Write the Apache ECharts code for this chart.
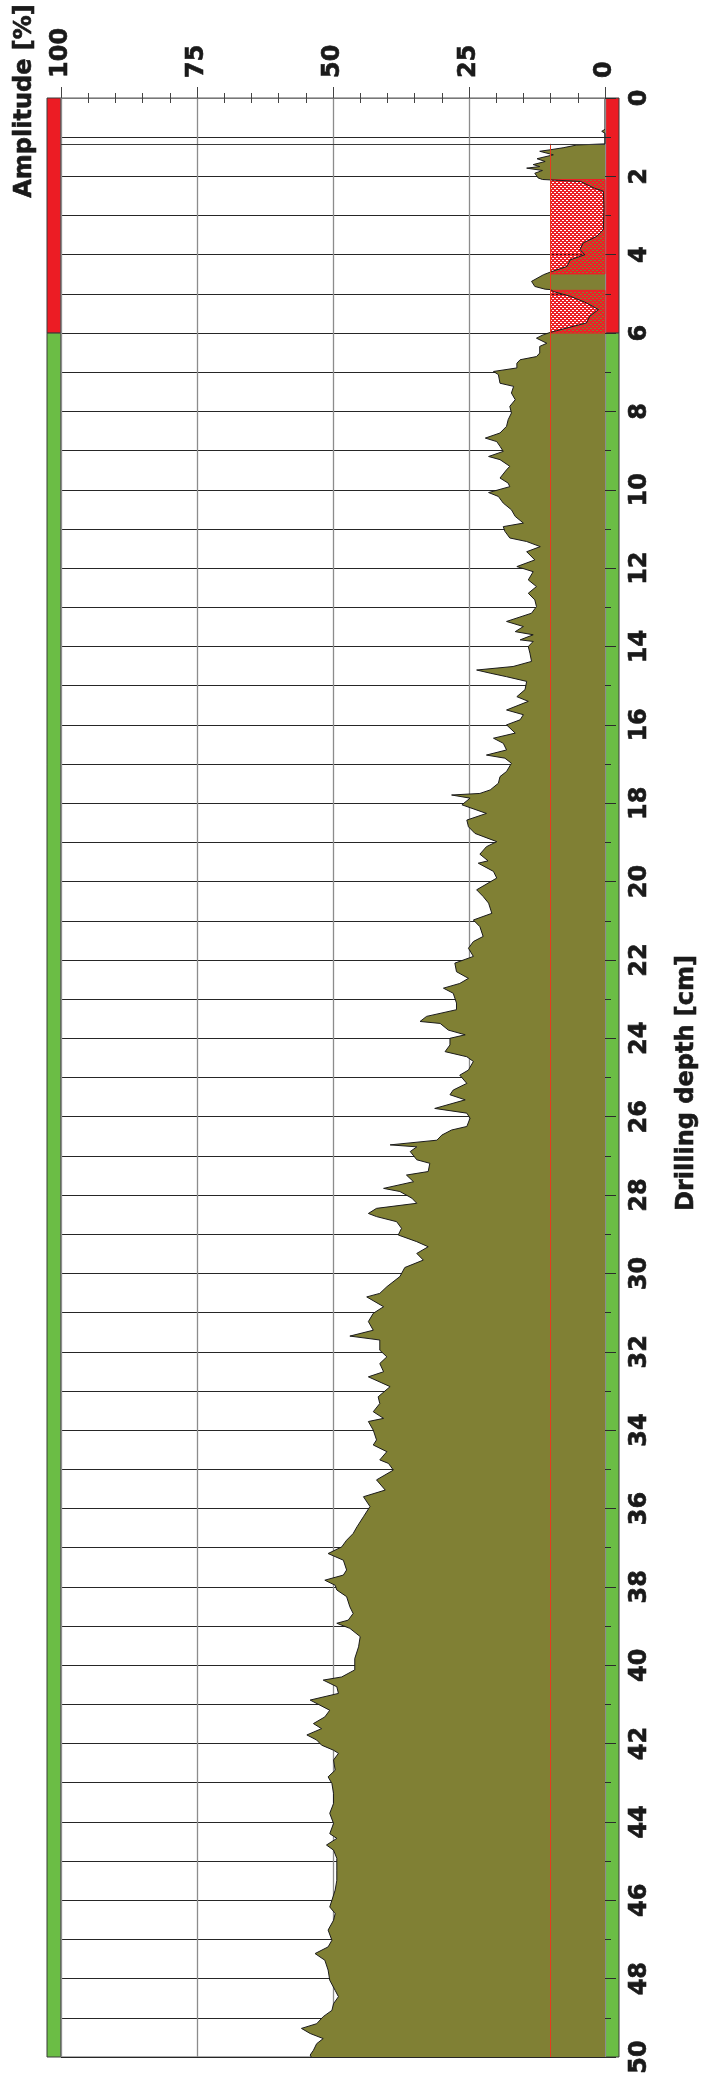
<!DOCTYPE html>
<html>
<head>
<meta charset="utf-8">
<script src="https://cdn.jsdelivr.net/npm/echarts/dist/echarts.min.js"></script>
<style>
html, body { margin: 0; padding: 0; background: #fff; }
#chart { width: 701px; height: 2081px; }
</style>
</head>
<body>
<div id="chart"></div>
<script>
// drilling profile (depth in cm, amplitude in %)
var depthCm = [
    0.80, 0.85, 0.90, 1.17, 1.20, 1.27, 1.32, 1.36, 1.45, 1.55, 1.62, 1.70, 1.75, 1.79, 1.85, 1.92,
    2.04, 2.08, 2.13, 2.30, 2.38, 2.80, 3.36, 3.53, 3.70, 3.87, 4.00, 4.13, 4.30, 4.43, 4.51, 4.68,
    4.81, 4.88, 4.89, 4.94, 5.06, 5.23, 5.40, 5.57, 5.74, 5.87, 5.98, 6.04, 6.13, 6.26, 6.34, 6.51,
    6.60, 6.68, 6.77, 6.89, 6.98, 7.06, 7.28, 7.36, 7.53, 7.70, 7.87, 8.04, 8.21, 8.38, 8.55, 8.68,
    8.77, 8.89, 9.02, 9.15, 9.23, 9.40, 9.49, 9.70, 9.83, 9.92, 10.07, 10.17, 10.34, 10.51, 10.68, 10.85,
    10.94, 11.06, 11.23, 11.32, 11.45, 11.58, 11.79, 11.96, 12.09, 12.30, 12.47, 12.64, 12.81, 12.98, 13.15, 13.36,
    13.49, 13.62, 13.70, 13.83, 13.87, 14.00, 14.17, 14.38, 14.51, 14.60, 14.68, 14.77, 14.89, 15.10, 15.28, 15.40,
    15.62, 15.74, 15.87, 16.00, 16.21, 16.34, 16.47, 16.64, 16.77, 16.85, 16.98, 17.19, 17.32, 17.49, 17.66, 17.75,
    17.79, 17.87, 18.04, 18.26, 18.43, 18.60, 18.77, 18.98, 19.11, 19.30, 19.47, 19.53, 19.74, 19.91, 20.21, 20.38,
    20.55, 20.81, 20.98, 21.15, 21.40, 21.53, 21.70, 21.91, 22.08, 22.30, 22.47, 22.60, 22.72, 22.85, 23.10, 23.27,
    23.44, 23.57, 23.62, 23.79, 23.91, 24.00, 24.17, 24.34, 24.47, 24.59, 24.81, 24.94, 25.15, 25.32, 25.44, 25.57,
    25.79, 25.91, 26.04, 26.25, 26.34, 26.47, 26.60, 26.72, 26.77, 26.89, 27.10, 27.19, 27.40, 27.49, 27.66, 27.83,
    27.91, 28.08, 28.21, 28.34, 28.47, 28.55, 28.68, 28.85, 28.93, 29.02, 29.19, 29.32, 29.49, 29.66, 29.85, 30.08,
    30.34, 30.51, 30.60, 30.85, 31.02, 31.23, 31.45, 31.60, 31.70, 31.96, 32.13, 32.30, 32.51, 32.64, 32.89, 33.15,
    33.32, 33.53, 33.70, 33.78, 34.00, 34.25, 34.38, 34.55, 34.76, 34.85, 35.02, 35.27, 35.53, 35.70, 35.95, 36.21,
    36.47, 36.64, 36.81, 36.98, 37.15, 37.32, 37.57, 37.70, 37.83, 37.96, 38.08, 38.25, 38.51, 38.68, 38.85, 38.93,
    39.06, 39.27, 39.53, 39.83, 40.12, 40.30, 40.38, 40.55, 40.72, 40.89, 41.02, 41.15, 41.32, 41.49, 41.62, 41.78,
    41.91, 42.04, 42.17, 42.25, 42.42, 42.68, 42.85, 43.02, 43.27, 43.53, 43.78, 44.04, 44.30, 44.42, 44.59, 44.72,
    44.93, 45.23, 45.49, 45.74, 46.00, 46.17, 46.34, 46.51, 46.76, 47.02, 47.19, 47.36, 47.53, 47.78, 48.04, 48.30,
    48.46, 48.64, 48.81, 48.97, 49.15, 49.27, 49.40, 49.53, 49.66, 49.83, 49.95, 50.00
];
var amplitudePct = [
    0, 0.6, 0, 0, 5.2, 7.7, 10, 12, 9.5, 12.5, 11, 13.2, 12, 14.4, 11.5, 12.9,
    12.3, 11.5, 4.5, 2, 0.3, 0.2, 0.3, 1.5, 4, 4.6, 3.7, 6.4, 7, 9.8, 11.3, 13.5,
    12.9, 11, 10, 9.5, 6.4, 3.4, 1.2, 2.8, 3.4, 7, 10, 11.3, 12.6, 10.7, 12, 12,
    12.6, 15.6, 16.2, 16.2, 20.5, 19.6, 19.3, 16.8, 17.2, 16.5, 17.5, 17.2, 17.8, 18.1, 19.3, 22,
    19.9, 19.3, 18.7, 21.4, 19.3, 17.5, 18.1, 19.3, 17.8, 17.5, 21.4, 19.6, 18.7, 17.2, 16.5, 15.0,
    18.7, 18.4, 17.5, 14.4, 11.9, 14.4, 12.9, 16.2, 13.2, 14.1, 12.6, 14.1, 12.9, 12.6, 13.5, 18.1,
    15.0, 16.5, 13.2, 15.6, 13.2, 14.1, 13.8, 13.5, 16.9, 23.6, 21.1, 18.1, 14.4, 14.7, 16.2, 14.1,
    18.1, 15.0, 15.6, 18.1, 16.5, 20.5, 18.7, 18.1, 21.8, 18.4, 17.2, 18.1, 19.3, 19.6, 21.1, 23.0,
    28.2, 24.8, 26.3, 21.8, 25.4, 25.1, 23.9, 19.9, 21.8, 23.0, 21.5, 23.3, 20.5, 19.9, 23.6, 22.4,
    21.4, 20.8, 24.2, 23.0, 22.4, 24.2, 25.1, 24.2, 27.6, 27.3, 25.1, 26.7, 29.7, 27.9, 27.3, 27.3,
    32.8, 34.0, 30.3, 28.8, 25.7, 28.5, 28.5, 29.4, 25.4, 24.2, 25.1, 26.7, 25.4, 27.9, 28.5, 25.7,
    31.3, 25.4, 24.8, 25.4, 28.2, 30.0, 30.9, 39.5, 34.6, 35.8, 34.6, 32.2, 32.5, 36.5, 35.2, 40.7,
    37.7, 35.5, 34.6, 42.0, 43.5, 42.0, 38.3, 37.4, 37.7, 38.0, 34.6, 32.5, 34.6, 33.4, 36.8, 37.7,
    40.1, 41.4, 43.8, 40.7, 42.6, 43.5, 42.6, 46.9, 41.4, 41.4, 40.1, 41.4, 40.7, 43.5, 39.5, 41.7,
    41.4, 42.6, 40.7, 43.5, 42.6, 42.0, 42.6, 40.1, 41.4, 39.8, 38.9, 42.0, 40.4, 44.4, 43.2, 44.4,
    45.6, 46.3, 47.5, 48.4, 50.9, 48.1, 47.5, 48.1, 51.5, 49.6, 49.3, 47.5, 46.9, 46.3, 47.2, 49.3,
    46.9, 45.0, 45.3, 46.0, 46.0, 48.4, 51.8, 49.3, 49.0, 54.2, 52.4, 50.6, 51.5, 53.6, 52.1, 54.8,
    53.0, 52.1, 49.9, 49.0, 49.9, 49.6, 50.9, 50.2, 49.9, 49.9, 50.6, 49.9, 50.6, 49.3, 51.2, 49.9,
    49.3, 49.3, 49.3, 49.6, 50.2, 50.6, 49.6, 49.9, 50.9, 50.2, 50.9, 53.3, 51.5, 50.9, 50.6, 49.6,
    49.0, 49.9, 50.2, 51.8, 53.0, 55.8, 54.2, 51.8, 53.0, 53.6, 54.2, 54.0
];

var thresholdPct = 10;
var startDepthCm = 1.17;
var endDepthCm = 50;

// evaluation zones along the drill path
var zoneFromCm = [0, 6];
var zoneToCm = [6, 50];
var zoneState = ['bad', 'good'];

// hatched sections below the threshold
var hatchFromCm = [2.08, 4.91];
var hatchToCm = [4.49, 6.0];

var ZONE_COLORS = { bad: '#ec1c24', good: '#6bbd45' };
var FONT = '"DejaVu Sans", "Liberation Sans", sans-serif';
var BAR_W = 14;

// red diamond mesh used for the hatched sections
function makeHatch() {
    var c = document.createElement('canvas');
    c.width = 4;
    c.height = 4;
    var g = c.getContext('2d');
    g.fillStyle = '#ec2027';
    for (var x = 0; x < 4; x++) {
        for (var y = 0; y < 4; y++) {
            if ((x + y) % 4 < 2 || ((x - y) % 4 + 4) % 4 < 2) g.fillRect(x, y, 1, 1);
        }
    }
    return c;
}
var hatchCanvas = makeHatch();

//侧边状态条
function renderZone(params, api) {
    var cs = params.coordSys;
    var y0 = api.coord([0, api.value(0)])[1];
    var y1 = api.coord([0, api.value(1)])[1];
    var col = ZONE_COLORS[zoneState[params.dataIndex]];
    var st = { fill: col, stroke: '#3b3b3b', lineWidth: 1 };
    return {
        type: 'group',
        children: [
            { type: 'rect', shape: { x: cs.x - BAR_W, y: y0, width: BAR_W, height: y1 - y0 }, style: st },
            { type: 'rect', shape: { x: cs.x + cs.width, y: y0, width: BAR_W, height: y1 - y0 }, style: st }
        ]
    };
}

//填充区域
function renderProfile(params, api) {
    var pts = [api.coord([0, depthCm[0]])];
    for (var i = 0; i < depthCm.length; i++) {
        pts.push(api.coord([amplitudePct[i], depthCm[i]]));
    }
    pts.push(api.coord([0, depthCm[depthCm.length - 1]]));
    return { type: 'polygon', shape: { points: pts }, style: { fill: '#808034' } };
}

//阴影区
function renderHatch(params, api) {
    var p0 = api.coord([thresholdPct, api.value(0)]);
    var p1 = api.coord([0, api.value(1)]);
    return {
        type: 'rect',
        shape: { x: p0[0], y: p0[1], width: p1[0] - p0[0], height: p1[1] - p0[1] },
        style: { fill: { image: hatchCanvas, repeat: 'repeat' }, stroke: '#ec2027', lineWidth: 1 }
    };
}

var zoneData = [];
for (var i = 0; i < zoneFromCm.length; i++) zoneData.push([zoneFromCm[i], zoneToCm[i]]);
var hatchData = [];
for (var j = 0; j < hatchFromCm.length; j++) hatchData.push([hatchFromCm[j], hatchToCm[j]]);
var lineData = [];
for (var k = 0; k < depthCm.length; k++) lineData.push([amplitudePct[k], depthCm[k]]);

var labelStyle = {
    fontSize: 24, fontWeight: 'bold', fontFamily: FONT, color: '#1a1a1a',
    textBorderColor: '#1a1a1a', textBorderWidth: 0.6
};

var chart = echarts.init(document.getElementById('chart'));
chart.setOption({
    animation: false,
    grid: [
        { left: 61, right: 96, top: 98, bottom: 24, show: true, borderColor: '#5a5a5a', borderWidth: 1 },
        { left: 61, right: 96, top: 98, bottom: 24 }
    ],
    xAxis: [{
        type: 'value', gridIndex: 0, position: 'top', inverse: true,
        min: 0, max: 100, interval: 25,
        axisLine: { show: true, lineStyle: { color: '#777', width: 1 } },
        axisTick: { show: true, length: 11, lineStyle: { color: '#444' } },
        minorTick: { show: true, splitNumber: 5, length: 5, lineStyle: { color: '#444' } },
        axisLabel: Object.assign({ rotate: 90, margin: 20 }, labelStyle),
        splitLine: { show: true, lineStyle: { color: '#8c8c8c', width: 1.3 } }
    }, {
        type: 'value', gridIndex: 1, position: 'top', inverse: true,
        min: 0, max: 100, interval: 25,
        axisLine: { show: false },
        axisTick: { show: false, inside: true },
        minorTick: { show: true, splitNumber: 5, length: 5, lineStyle: { color: '#444' } },
        axisLabel: { show: false },
        splitLine: { show: false }
    }],
    yAxis: [{
        type: 'value', gridIndex: 0, position: 'right', inverse: true,
        min: 0, max: 50, interval: 2,
        axisLine: { show: false },
        axisTick: { show: true, length: 11, lineStyle: { color: '#2b2b2b' } },
        minorTick: { show: true, splitNumber: 2, length: 6, lineStyle: { color: '#2b2b2b' } },
        axisLabel: Object.assign({ rotate: 90, margin: 23, showMinLabel: true, showMaxLabel: true }, labelStyle),
        splitLine: { show: true, lineStyle: { color: '#262626', width: 1 } },
        minorSplitLine: { show: true, lineStyle: { color: '#262626', width: 1 } }
    }, {
        type: 'value', gridIndex: 1, inverse: true, min: 0, max: 50, show: false
    }],
    graphic: [{
        type: 'text', x: 25, y: 101, rotation: Math.PI / 2,
        style: {
            text: 'Amplitude [%]', fontSize: 24, fontWeight: 'bold', fontFamily: FONT, fill: '#1a1a1a',
            stroke: '#1a1a1a', lineWidth: 0.6, align: 'center', verticalAlign: 'middle'
        }
    }, {
        type: 'text', x: 687, y: 1083, rotation: Math.PI / 2,
        style: {
            text: 'Drilling depth [cm]', fontSize: 24, fontWeight: 'bold', fontFamily: FONT, fill: '#1a1a1a',
            stroke: '#1a1a1a', lineWidth: 0.6, align: 'center', verticalAlign: 'middle'
        }
    }],
    series: [{
        type: 'custom', name: 'zones', xAxisIndex: 0, yAxisIndex: 0,
        z: -1, clip: false, silent: true,
        renderItem: renderZone, data: zoneData
    }, {
        type: 'custom', name: 'profile', xAxisIndex: 0, yAxisIndex: 0,
        z: 2, silent: true,
        renderItem: renderProfile, data: [[0, 0]]
    }, {
        type: 'custom', name: 'hatch', xAxisIndex: 0, yAxisIndex: 0,
        z: 3, silent: true,
        renderItem: renderHatch, data: hatchData
    }, {
        type: 'line', name: 'amplitude', xAxisIndex: 0, yAxisIndex: 0,
        z: 4, symbol: 'none', silent: true,
        lineStyle: { color: '#1c1c1c', width: 1 },
        data: lineData,
        markLine: {
            silent: true, symbol: 'none', label: { show: false },
            data: [
                [{ coord: [thresholdPct, startDepthCm], lineStyle: { color: '#e8391f', width: 1, type: 'solid' } },
                 { coord: [thresholdPct, endDepthCm] }],
                [{ coord: [100, startDepthCm], lineStyle: { color: '#3a3a3a', width: 1, type: 'solid' } },
                 { coord: [0, startDepthCm] }]
            ]
        }
    }]
});
</script>
</body>
</html>
